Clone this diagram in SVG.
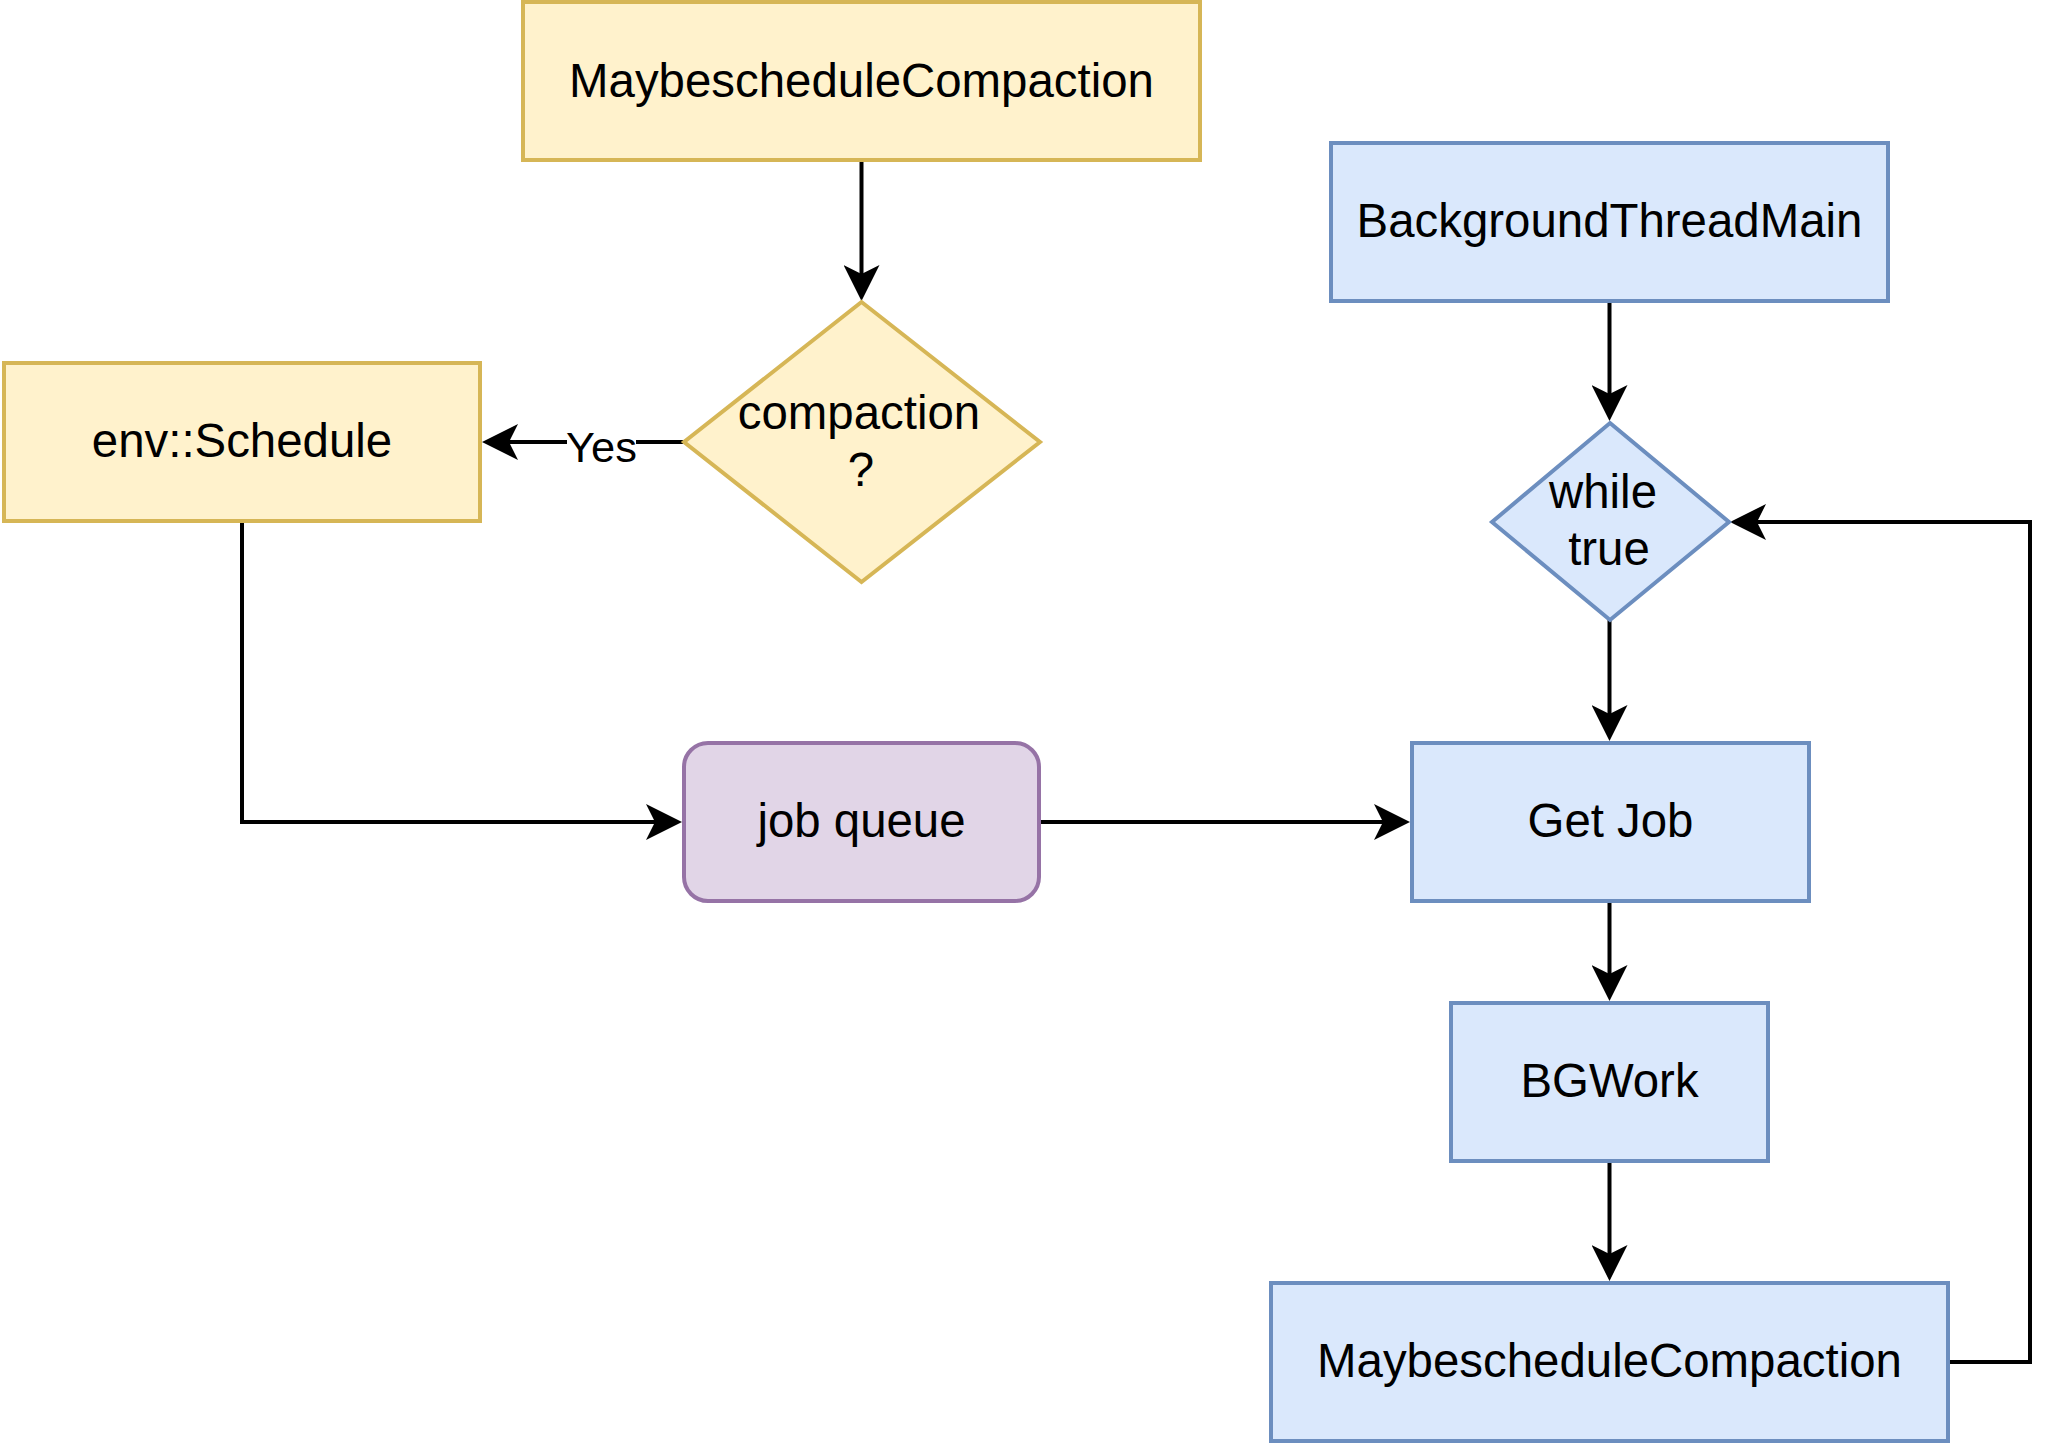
<svg xmlns="http://www.w3.org/2000/svg" width="2064" height="1444" viewBox="0 0 2064 1444">
<style>
  .yellow { fill: #fff2cc; stroke: #d6b656; stroke-width: 4; }
  .blue { fill: #dae8fc; stroke: #6c8ebf; stroke-width: 4; }
  .purple { fill: #e1d5e7; stroke: #9673a6; stroke-width: 4; }
  .label { font-family: "Liberation Sans", Arial, Helvetica, sans-serif; font-size: 47.4px; fill: #000000; text-anchor: middle; }
  .edge-label { font-family: "Liberation Sans", Arial, Helvetica, sans-serif; font-size: 43.4px; fill: #000000; text-anchor: middle; }
  .edge { fill: none; stroke: #000000; stroke-width: 4; marker-end: url(#arrow); }
  .plain { fill: none; stroke: #000000; stroke-width: 4; }
</style>
<defs>
  <marker id="arrow" markerUnits="userSpaceOnUse" viewBox="0 0 36 36" markerWidth="36" markerHeight="36" refX="9" refY="18" orient="auto">
    <path d="M0,0 L36,18 L0,36 L9,18 Z" fill="#000000"/>
  </marker>
</defs>
<rect width="2064" height="1444" fill="#ffffff"/>

<g id="connectors">
  <path class="edge" d="M861.5,160 L861.5,274"/>
  <path class="edge" d="M684,442 L509,442"/>
  <path class="edge" d="M242,522 L242,822 L655,822"/>
  <path class="edge" d="M1039,822 L1383,822"/>
  <path class="edge" d="M1609.5,301 L1609.5,394"/>
  <path class="edge" d="M1609.5,620 L1609.5,714"/>
  <path class="edge" d="M1609.5,901 L1609.5,974"/>
  <path class="edge" d="M1609.5,1161 L1609.5,1254"/>
  <path class="edge" d="M1948,1362 L2030,1362 L2030,522 L1757,522"/>
  <g id="label-yes">
    <rect x="567" y="424" width="69" height="44" fill="#ffffff"/>
    <text class="edge-label" x="601.5" y="462">Yes</text>
  </g>
</g>

<g id="node-maybe-top">
  <rect class="yellow" x="523" y="2" width="677" height="158"/>
  <text class="label" x="861.5" y="96.5">MaybescheduleCompaction</text>
</g>

<g id="node-compaction">
  <polygon class="yellow" points="861.5,302 1040,442 861.5,582 684,442"/>
  <text class="label" x="859" y="428.5">compaction</text>
  <text class="label" x="861" y="485.5">?</text>
</g>

<g id="node-env-schedule">
  <rect class="yellow" x="4" y="363" width="476" height="158"/>
  <text class="label" x="242" y="457">env::Schedule</text>
</g>

<g id="node-job-queue">
  <rect class="purple" x="684" y="743" width="355" height="158" rx="24" ry="24"/>
  <text class="label" x="861.5" y="837">job queue</text>
</g>

<g id="node-background-thread-main">
  <rect class="blue" x="1331" y="143" width="557" height="158"/>
  <text class="label" x="1609.5" y="237">BackgroundThreadMain</text>
</g>

<g id="node-while-true">
  <polygon class="blue" points="1610,423 1729,522 1610,620 1492,522"/>
  <text class="label" x="1603" y="507.5">while</text>
  <text class="label" x="1609" y="564.5">true</text>
</g>

<g id="node-get-job">
  <rect class="blue" x="1412" y="743" width="397" height="158"/>
  <text class="label" x="1610.5" y="837">Get Job</text>
</g>

<g id="node-bgwork">
  <rect class="blue" x="1451" y="1003" width="317" height="158"/>
  <text class="label" x="1609.5" y="1097">BGWork</text>
</g>

<g id="node-maybe-bottom">
  <rect class="blue" x="1271" y="1283" width="677" height="158"/>
  <text class="label" x="1609.5" y="1377">MaybescheduleCompaction</text>
</g>
</svg>
